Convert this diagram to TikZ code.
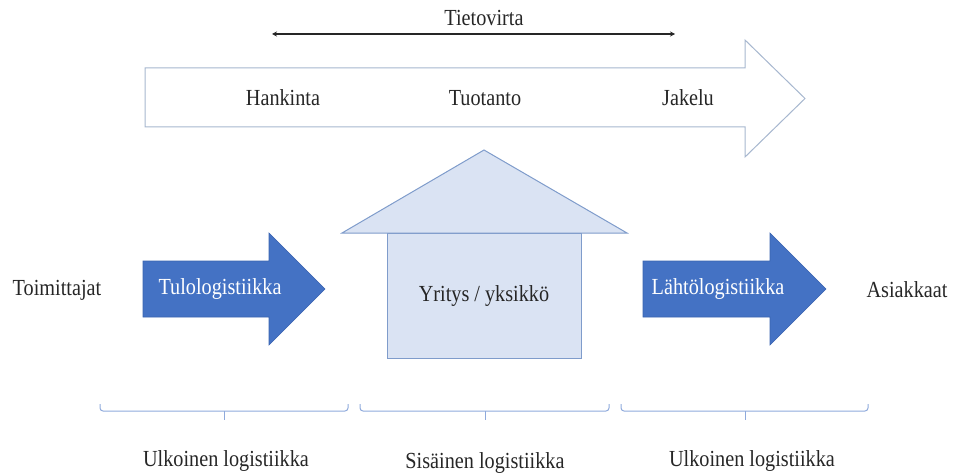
\documentclass[tikz,border=0pt]{standalone}
\usepackage{fontspec}
\setmainfont{Liberation Serif}[FakeStretch=0.88]
\usetikzlibrary{arrows.meta}
\definecolor{officeblue}{HTML}{4472C4}
\definecolor{blueedge}{HTML}{3A64B0}
\definecolor{housefill}{HTML}{DAE3F3}
\definecolor{houseedge}{HTML}{7F9CCB}
\definecolor{arrowedge}{HTML}{A7B7CF}
\definecolor{braceblue}{HTML}{8FAADC}
\definecolor{textgray}{HTML}{262626}
\tikzset{
  lbl/.style={font=\fontsize{23}{26}\selectfont, text=textgray, inner sep=0pt},
  wlbl/.style={font=\fontsize{23}{26}\selectfont, text=white, inner sep=0pt},
  bluearrow/.style={fill=officeblue, draw=blueedge, line width=0.6pt},
  housestyle/.style={fill=housefill, draw=houseedge, line width=1pt},
  bigarrow/.style={fill=white, draw=arrowedge, line width=1pt},
  bracestyle/.style={draw=braceblue, line width=1pt, rounded corners=3pt},
  infoarrow/.style={draw=black!85, line width=1.3pt, {Stealth[length=5pt,width=5pt]}-{Stealth[length=5pt,width=5pt]}}
}
\begin{document}
\begin{tikzpicture}[x=1pt,y=-1pt]
\useasboundingbox (0,0) rectangle (955,473);
% information flow
\node[lbl] (tieto) at (484,18) {Tietovirta};
\coordinate (tvL) at (272,34);
\coordinate (tvR) at (675,34);
\draw[infoarrow] (tvL) -- (tvR);
% big outline arrow
\draw[bigarrow] (145,68) -- (745,68) -- (745,40) -- (805,98.5) -- (745,157) -- (745,127) -- (145,127) -- cycle;
\node[lbl] (hank) at (283,98) {Hankinta};
\node[lbl] (tuot) at (485,98) {Tuotanto};
\node[lbl] (jak) at (688,98) {Jakelu};
% house
\draw[housestyle] (387,233) rectangle (581,358);
\draw[housestyle] (342,233) -- (484,150) -- (627,233) -- cycle;
\node[lbl] (yritys) at (484,296) {Yritys / yksikkö};
% blue arrows
\draw[bluearrow] (143,261) -- (269,261) -- (269,233) -- (325,289) -- (269,345) -- (269,317) -- (143,317) -- cycle;
\node[wlbl] (tulo) at (220,289) {Tulologistiikka};
\draw[bluearrow] (643,261) -- (770,261) -- (770,233) -- (826,289) -- (770,345) -- (770,317) -- (643,317) -- cycle;
\node[wlbl] (lahto) at (718,289) {Lähtölogistiikka};
\node[lbl] (toim) at (57,290) {Toimittajat};
\node[lbl] (asiak) at (907,290) {Asiakkaat};
% braces
\draw[bracestyle] (100,404) -- (100,411) -- (348,411) -- (348,404);
\draw[draw=braceblue, line width=1pt] (224,411) -- (224,420);
\draw[bracestyle] (360,404) -- (360,411) -- (609,411) -- (609,404);
\draw[draw=braceblue, line width=1pt] (485,411) -- (485,420);
\draw[bracestyle] (621,404) -- (621,411) -- (868,411) -- (868,404);
\draw[draw=braceblue, line width=1pt] (745,411) -- (745,420);
\node[lbl] (ulk1) at (226,461) {Ulkoinen logistiikka};
\node[lbl] (sis) at (485,463) {Sisäinen logistiikka};
\node[lbl] (ulk2) at (752,461) {Ulkoinen logistiikka};
\end{tikzpicture}
\end{document}
